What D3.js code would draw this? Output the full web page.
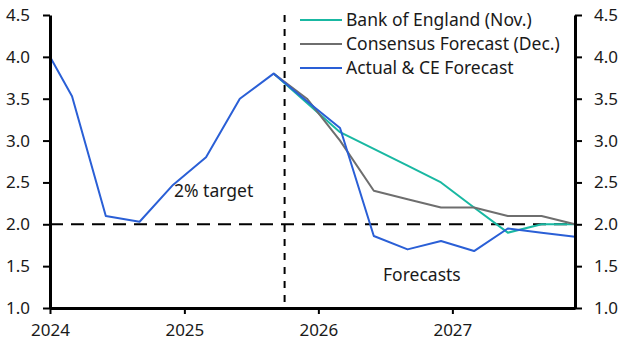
<!DOCTYPE html>
<html>
<head>
<meta charset="utf-8">
<script src="https://cdn.jsdelivr.net/npm/d3@7"></script>
<style>
  body { margin: 0; background: #fff; }
  svg text { font-family: "Noto Sans", "Open Sans", sans-serif; fill: #1a1a1a; }
  .axis path, .axis line { stroke: #000; }
</style>
</head>
<body>
<div id="chart"></div>
<script>

// quarterly points (month of quarter end), first point Jan 2024
var actual_dates = ["2024-01","2024-03","2024-06","2024-09","2024-12","2025-03","2025-06","2025-09",
                    "2025-12","2026-03","2026-06","2026-09","2026-12","2027-03","2027-06","2027-09","2027-12"];
var actual_values = [4.0, 3.53, 2.1, 2.03, 2.47, 2.8, 3.5, 3.8,
                     3.47, 3.15, 1.86, 1.7, 1.8, 1.68, 1.95, 1.9, 1.85];

var forecast_dates = ["2025-09","2025-12","2026-03","2026-06","2026-09","2026-12","2027-03","2027-06","2027-09","2027-12"];
var boe_values = [3.8, 3.45, 3.1, 2.9, 2.7, 2.5, 2.2, 1.9, 2.0, 2.0];
var consensus_values = [3.8, 3.5, 3.0, 2.4, 2.3, 2.2, 2.2, 2.1, 2.1, 2.0];

var y_ticks = [1.0, 1.5, 2.0, 2.5, 3.0, 3.5, 4.0, 4.5];
var x_ticks = ["2024-01","2025-01","2026-01","2027-01"];
var forecast_start = "2025-10";
var target = 2.0;

var series = [
  {name: "Bank of England (Nov.)", dates: forecast_dates, values: boe_values, color: "#19b8a2"},
  {name: "Consensus Forecast (Dec.)", dates: forecast_dates, values: consensus_values, color: "#6e6e6e"},
  {name: "Actual & CE Forecast", dates: actual_dates, values: actual_values, color: "#2a5fd6"}
];

var parseMonth = d3.timeParse("%Y-%m");

var margin = {top: 15, right: 55, bottom: 46, left: 50},
    width = 630 - margin.left - margin.right,
    height = 354 - margin.top - margin.bottom;

var x = d3.scaleTime()
  .domain([parseMonth("2024-01"), parseMonth("2027-12")])
  .range([0, width]);

var y = d3.scaleLinear()
  .domain([1, 4.5])
  .range([height, 0]);

var svg = d3.select("#chart").append("svg")
  .attr("width", 630)
  .attr("height", 354)
  .append("g")
  .attr("transform", "translate(" + margin.left + "," + margin.top + ")");

// 2% target line
svg.append("line")
  .attr("x1", 0)
  .attr("x2", width)
  .attr("y1", y(target))
  .attr("y2", y(target))
  .attr("stroke", "#000")
  .attr("stroke-width", 2)
  .style("stroke-dasharray", "13, 8");

// start of forecasts
svg.append("line")
  .attr("x1", x(parseMonth(forecast_start)))
  .attr("x2", x(parseMonth(forecast_start)))
  .attr("y1", 0)
  .attr("y2", height)
  .attr("stroke", "#000")
  .attr("stroke-width", 2)
  .style("stroke-dasharray", "7, 7");

var line = d3.line()
  .x(function(d) { return x(d.date); })
  .y(function(d) { return y(d.value); });

series.forEach(function(s) {
  var pts = s.dates.map(function(d, i) { return {date: parseMonth(d), value: s.values[i]}; });
  svg.append("path")
    .datum(pts)
    .attr("fill", "none")
    .attr("stroke", s.color)
    .attr("stroke-width", 2)
    .attr("stroke-linejoin", "round")
    .attr("d", line);
});

// axes
var yLeft = d3.axisLeft(y).tickValues(y_ticks).tickFormat(d3.format(".1f")).tickSize(7).tickSizeOuter(0).tickPadding(13);
var yRight = d3.axisRight(y).tickValues(y_ticks).tickFormat(d3.format(".1f")).tickSize(7).tickSizeOuter(0).tickPadding(12);
var xAxis = d3.axisBottom(x).tickValues(x_ticks.map(parseMonth)).tickFormat(d3.timeFormat("%Y")).tickSize(6).tickSizeOuter(0).tickPadding(10);

svg.append("g")
  .attr("class", "axis")
  .call(yLeft);

svg.append("g")
  .attr("class", "axis")
  .attr("transform", "translate(" + width + ",0)")
  .call(yRight);

svg.append("g")
  .attr("class", "axis")
  .attr("transform", "translate(0," + height + ")")
  .call(xAxis);

svg.selectAll(".axis path").attr("stroke-width", 3);
svg.selectAll(".axis line").attr("stroke-width", 2);
svg.selectAll(".axis text").style("font-size", "17px").attr("fill", "#1a1a1a");

// legend
var legend = svg.append("g")
  .attr("transform", "translate(250,5)");

series.forEach(function(s, i) {
  var row = legend.append("g").attr("transform", "translate(0," + (i * 24) + ")");
  row.append("line")
    .attr("x1", 0).attr("x2", 42)
    .attr("y1", 0).attr("y2", 0)
    .attr("stroke", s.color)
    .attr("stroke-width", 2);
  row.append("text")
    .attr("x", 46)
    .attr("y", 6)
    .style("font-size", "17.5px")
    .text(s.name);
});

// annotations
svg.append("text")
  .attr("x", 124)
  .attr("y", 182)
  .style("font-size", "17.5px")
  .text("2% target");

svg.append("text")
  .attr("x", 333)
  .attr("y", 266)
  .style("font-size", "17.5px")
  .text("Forecasts");

</script>
</body>
</html>
